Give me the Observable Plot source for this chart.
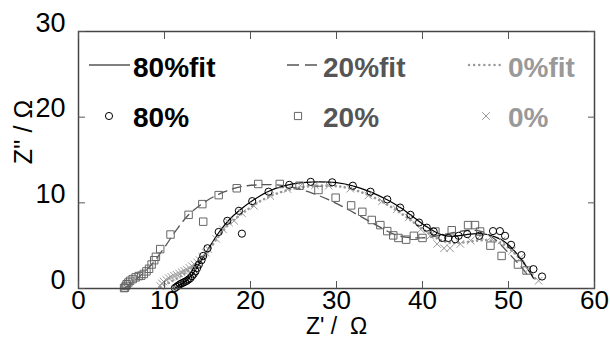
<!DOCTYPE html>
<html>
<head>
<meta charset="utf-8">
<script src="https://cdn.jsdelivr.net/npm/d3@7"></script>
<script src="https://cdn.jsdelivr.net/npm/@observablehq/plot@0.6"></script>
<style>
  html, body { margin: 0; padding: 0; background: #fff; }
  #wrap { position: relative; width: 610px; height: 340px; overflow: hidden; font-family: "Liberation Sans", Arial, sans-serif; }
  #legend { position: absolute; left: 0; top: 0; pointer-events: none; }
</style>
</head>
<body>
<div id="wrap"></div>
<script>
// ---- data ----
const xTicks = [0, 10, 20, 30, 40, 50, 60];
const yTicks = [0, 10, 20, 30];
const xLabel = "Z' /  Ω";
const yLabel = "Z'' / Ω";

const seriesNames = ["80%", "20%", "0%"];
const fitNames = ["80%fit", "20%fit", "0%fit"];
const seriesColors = ["#000000", "#555555", "#999999"];

// measured points [Z', Z'']
const data80 = [
  [11.2,0.05],[11.4,0.2],[11.6,0.35],[11.8,0.5],[12.0,0.6],[12.2,0.7],[12.4,0.8],[12.6,0.9],
  [12.8,1.05],[13.0,1.2],[13.2,1.45],[13.4,1.7],[13.6,2.0],[13.8,2.4],[14.0,2.8],[14.3,3.3],
  [14.5,3.8],[15.0,4.7],[16.3,6.6],[17.3,7.9],[18.65,9.07],[19.0,6.4],[20.2,10.2],[22.1,11.3],
  [24.5,12.1],[27.0,12.45],[29.5,12.4],[31.9,12.0],[33.95,11.3],[35.9,10.4],[37.4,9.45],
  [38.6,8.6],[39.6,7.7],[40.5,7.1],[41.3,6.65],[42.3,5.9],[43.0,5.9],[43.8,5.75],[44.2,6.15],
  [45.2,6.35],[46.6,6.15],[48.2,6.7],[49.0,6.7],[49.6,6.15],[50.3,5.1],[51.5,3.9],[52.9,2.26],[53.9,1.4]
];
const data20 = [
  [5.3,0.05],[5.4,0.1],[5.5,0.3],[5.6,0.5],[5.8,0.7],[6.0,0.9],[6.3,1.1],[6.65,1.3],[7.0,1.45],[7.3,1.5],
  [7.6,1.7],[7.9,2.0],[8.2,2.3],[8.5,2.8],[8.8,3.3],[9.0,3.7],[9.5,4.6],[10.7,6.3],[12.8,8.6],
  [14.4,9.85],[14.5,7.8],[16.3,10.9],[18.4,11.7],[20.9,12.2],[23.4,12.2],[25.7,12.0],[27.9,11.5],
  [29.9,10.6],[31.7,9.7],[33.0,8.95],[34.1,8.0],[35.1,7.4],[35.9,6.7],[36.6,6.2],[37.2,5.9],
  [38.1,5.7],[39.0,6.15],[40.0,5.9],[41.5,6.65],[43.4,6.8],[45.3,7.4],[46.1,7.4],[46.7,6.65],
  [47.9,5.0],[49.2,3.8],[51.1,2.8],[52.1,2.1]
];
const data0 = [
  [9.5,0.3],[9.7,0.6],[9.9,0.8],[10.2,1.0],[10.5,1.2],[10.8,1.35],[11.1,1.5],[11.4,1.6],[11.7,1.75],
  [12.0,1.9],[12.3,2.05],[12.6,2.2],[12.9,2.4],[13.2,2.6],[13.5,2.8],[13.8,3.05],[14.1,3.3],[14.4,3.7],
  [14.8,4.2],[15.1,4.6],[16.0,5.8],[16.8,6.9],[17.5,7.7],[18.1,7.9],[19.0,8.8],[20.4,9.65],[22.3,10.8],
  [24.3,11.6],[25.8,12.0],[27.5,12.05],[29.1,12.0],[31.6,11.65],[33.7,10.85],[35.3,10.2],[37.0,9.25],
  [38.4,8.3],[39.8,6.9],[40.9,6.15],[41.7,5.2],[42.5,4.7],[43.2,4.7],[44.4,5.2],[45.6,5.6],[46.7,6.15],
  [47.9,5.95],[49.2,5.6],[50.4,4.4],[51.4,3.6],[52.3,2.25],[53.5,0.9]
];

// fitted curves [Z', Z'']
const fit80 = [
  [11.2,0],[11.8,0.4],[12.5,0.9],[13.2,1.6],[13.8,2.5],[14.5,3.7],[15.2,4.8],[16.3,6.5],[17.5,8.0],
  [18.8,9.2],[20.3,10.3],[22.0,11.3],[24,12.0],[26,12.35],[28,12.45],[30,12.35],[32,11.95],[34,11.25],
  [36,10.3],[37.5,9.4],[39,8.3],[40.5,7.2],[41.5,6.6],[42.5,6.2],[43.5,6.1],[44.5,6.2],[45.5,6.35],
  [46.5,6.4],[47.5,6.3],[48.5,6.0],[49.5,5.5],[50.5,4.6],[51.5,3.4],[52.3,2.2],[52.9,1.2]
];
const fit20 = [
  [5.3,0],[7,1.3],[8.5,2.8],[10,4.8],[11.5,7.0],[13,8.8],[15,10.3],[17,11.3],[19,11.9],[21,12.1],
  [23,12.1],[25,11.8],[27,11.2],[29,10.4],[31,9.4],[33,8.3],[35,7.2],[36.5,6.4],[38,6.0],[39.5,5.9],
  [41,6.0],[42.5,6.3],[44,6.6],[45.5,6.8],[47,6.6],[48.5,5.7],[49.5,4.7],[50.5,3.6],[51.5,2.5],[52.5,1.2]
];
const fit0 = [
  [9.5,0.2],[12,1.5],[14.5,3.5],[16,5.7],[17.5,7.5],[19.5,9.1],[21.5,10.4],[24,11.4],[26.5,11.9],
  [29,12.0],[31,11.8],[33,11.2],[35,10.3],[37,9.1],[39,7.7],[40.5,6.6],[42,5.7],[43.5,5.3],[45,5.4],
  [46.5,5.6],[48,5.6],[49.5,5.1],[50.5,4.3],[51.5,3.3],[52.5,2.0],[53.2,1.0]
];

// ---- chart ----
const FONT = "'Liberation Sans', Arial, sans-serif";
const chart = Plot.plot({
  width: 610,
  height: 340,
  marginLeft: 78,
  marginRight: 16,
  marginTop: 31,
  marginBottom: 52,
  style: { fontFamily: FONT, fontSize: "27px", color: "#000", background: "#fff" },
  x: { domain: [0, 60], label: null },
  y: { domain: [0, 30], label: null },
  marks: [
    Plot.line(fit0, { x: d => d[0], y: d => d[1], stroke: seriesColors[2], strokeWidth: 2.6, strokeDasharray: "0.1,4.5", strokeLinecap: "round", curve: "catmull-rom" }),
    Plot.line(fit20, { x: d => d[0], y: d => d[1], stroke: seriesColors[1], strokeWidth: 1.3, strokeDasharray: "9,6", curve: "catmull-rom" }),
    Plot.line(fit80, { x: d => d[0], y: d => d[1], stroke: seriesColors[0], strokeWidth: 1.2, curve: "catmull-rom" }),
    Plot.dot(data0, { x: d => d[0], y: d => d[1], symbol: "times", r: 3.5, stroke: seriesColors[2], strokeWidth: 1 }),
    Plot.dot(data20, { x: d => d[0], y: d => d[1], symbol: "square", r: 4.2, stroke: "#666", strokeWidth: 1, fill: "none" }),
    Plot.dot(data80, { x: d => d[0], y: d => d[1], symbol: "circle", r: 3.6, stroke: "#000", strokeWidth: 1, fill: "none" }),
    Plot.frame({ stroke: "#444", strokeWidth: 1.5 }),
    Plot.axisX(xTicks, { anchor: "bottom", tickSize: -7, tickPadding: 9, stroke: "#555", fill: "#000", fontSize: 26, label: null }),
    Plot.axisX(xTicks, { anchor: "top", tickSize: -7, stroke: "#555", tickFormat: () => "", label: null }),
    Plot.axisY(yTicks, { anchor: "left", tickSize: -7, tickPadding: 20, lineAnchor: "bottom", stroke: "#555", fill: "#000", fontSize: 27, label: null }),
    Plot.axisY(yTicks, { anchor: "right", tickSize: -7, stroke: "#555", tickFormat: () => "", label: null }),
    Plot.text([xLabel], { frameAnchor: "bottom", lineAnchor: "middle", textAnchor: "middle", dy: 38, text: d => d, fontSize: 23, fill: "#000" }),
    Plot.text([yLabel], { frameAnchor: "left", lineAnchor: "middle", textAnchor: "middle", dx: -55, dy: -28, rotate: -90, text: d => d, fontSize: 25, fill: "#000" })
  ]
});
const wrap = document.getElementById("wrap");
wrap.appendChild(chart);

// ---- legend overlay ----
const lg = d3.select(wrap).append("svg").attr("id", "legend").attr("width", 610).attr("height", 340);
const cols = [
  { sx0: 89, sx1: 130, mx: 109, tx: 133, dash: null, width: 1.2, cap: "butt" },
  { sx0: 287, sx1: 317, mx: 298, tx: 323, dash: "12,6", width: 1.6, cap: "butt" },
  { sx0: 469, sx1: 504, mx: 486, tx: 508, dash: "0.1,5", width: 2.4, cap: "round" }
];
const symbols = [d3.symbolCircle, d3.symbolSquare, d3.symbolTimes];
const symSizes = [40, 52, 40];
const markerStroke = ["#000", "#666", "#999"];
const row1 = 65, row2 = 116;
cols.forEach((c, i) => {
  lg.append("line").attr("x1", c.sx0).attr("x2", c.sx1).attr("y1", row1).attr("y2", row1)
    .attr("stroke", seriesColors[i]).attr("stroke-width", c.width)
    .attr("stroke-dasharray", c.dash).attr("stroke-linecap", c.cap);
  lg.append("text").attr("x", c.tx).attr("y", row1 + 12).text(fitNames[i])
    .attr("font-family", FONT).attr("font-weight", "bold").attr("font-size", 28).attr("fill", seriesColors[i]);
  lg.append("path").attr("d", d3.symbol(symbols[i], symSizes[i])())
    .attr("transform", `translate(${c.mx},${row2})`)
    .attr("fill", "none").attr("stroke", markerStroke[i]).attr("stroke-width", 1);
  lg.append("text").attr("x", c.tx).attr("y", row2 + 11).text(seriesNames[i])
    .attr("font-family", FONT).attr("font-weight", "bold").attr("font-size", 28).attr("fill", seriesColors[i]);
});
</script>
</body>
</html>
